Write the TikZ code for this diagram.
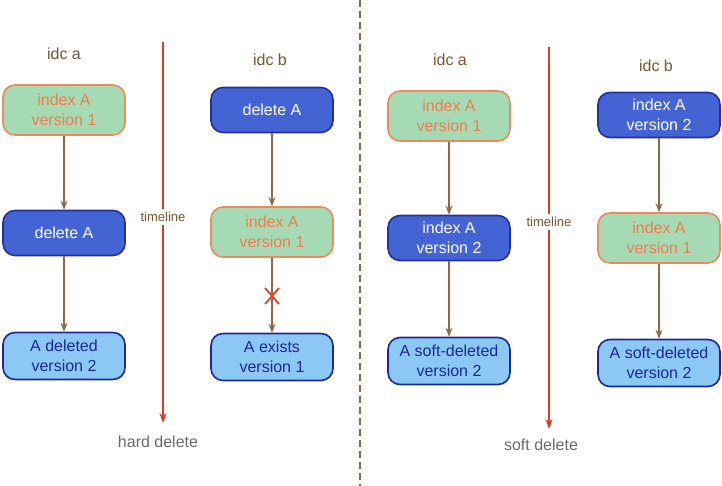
\documentclass[tikz,border=0pt]{standalone}
\usepackage{fontspec}
\setmainfont{Liberation Sans}
\usetikzlibrary{arrows.meta}
\definecolor{gfill}{HTML}{A6DAB4}
\definecolor{gdraw}{HTML}{EE8A5A}
\definecolor{gtext}{HTML}{EE7D4E}
\definecolor{dfill}{HTML}{4464D4}
\definecolor{ddraw}{HTML}{2230A0}
\definecolor{lfill}{HTML}{8CC8F4}
\definecolor{ldraw}{HTML}{1C2898}
\definecolor{arr}{HTML}{8C6A46}
\definecolor{lbl}{HTML}{7A5530}
\definecolor{tred}{HTML}{E0392C}
\definecolor{xred}{HTML}{EE3A2A}
\definecolor{gry}{HTML}{6A6A6A}
\tikzset{
  base/.style={rounded corners=12pt, line width=1.6pt, minimum width=122pt, align=center, font=\fontsize{16}{20.5}\selectfont, inner sep=0pt},
  gbox/.style={base, fill=gfill, draw=gdraw, text=gtext, minimum height=50pt},
  dbox/.style={base, fill=dfill, draw=ddraw, text=white, minimum height=45pt},
  lbox/.style={base, fill=lfill, draw=ldraw, text=ldraw, minimum height=47pt},
  flow/.style={draw=arr, line width=1.4pt, -{Stealth[length=9pt,width=7pt]}},
  idc/.style={text=lbl, font=\fontsize{16}{18}\selectfont},
  tline/.style={draw=tred, line width=1.6pt},
  tlabel/.style={text=lbl, font=\fontsize{13}{15}\selectfont},
  caption/.style={text=gry, font=\fontsize{16}{18}\selectfont}
}
\begin{document}
\begin{tikzpicture}[x=1pt,y=-1pt]
\useasboundingbox (0,0) rectangle (722,486);
% left side: hard delete
\node[idc] (la) at (64,54) {idc a};
\node[gbox] (a1) at (64,110) {index A\\version 1};
\node[dbox] (a2) at (64,233) {delete A};
\node[lbox] (a3) at (64,356) {A deleted\\version 2};
\draw[flow] (a1) -- (a2);
\draw[flow] (a2) -- (a3);

\node[idc] (lb) at (270,60) {idc b};
\node[dbox] (b1) at (272,110) {delete A};
\node[gbox] (b2) at (272,232) {index A\\version 1};
\node[lbox] (b3) at (272,357) {A exists\\version 1};
\draw[flow] (b1) -- (b2);
\draw[flow] (b2) -- (b3);
\coordinate (xc) at (272,296);
\draw[xred, line width=1.8pt] ([shift={(-7,-8)}]xc) -- ([shift={(7,8)}]xc);
\draw[xred, line width=1.8pt] ([shift={(7,-8)}]xc) -- ([shift={(-7,8)}]xc);

\coordinate (t1top) at (163,42);
\node[tlabel] (t1) at (163,217) {timeline};
\coordinate (t1bot) at (163,423);
\draw[tline] (t1top) -- (t1.north);
\draw[tline, -{Stealth[length=10pt,width=7pt]}] (t1.south) -- (t1bot);
\node[caption] (hd) at (158,442) {hard delete};

% divider
\coordinate (dtop) at (360,0);
\coordinate (dbot) at (360,486);
\draw[draw=arr, line width=1.5pt, dash pattern=on 7pt off 4pt] (dtop) -- (dbot);

% right side: soft delete
\node[idc] (ra) at (450,60) {idc a};
\node[gbox] (c1) at (449,116) {index A\\version 1};
\node[dbox] (c2) at (449,238) {index A\\version 2};
\node[lbox] (c3) at (449,361) {A soft-deleted\\version 2};
\draw[flow] (c1) -- (c2);
\draw[flow] (c2) -- (c3);

\node[idc] (rb) at (656,66) {idc b};
\node[dbox] (d1) at (659,115) {index A\\version 2};
\node[gbox] (d2) at (659,238) {index A\\version 1};
\node[lbox] (d3) at (659,363) {A soft-deleted\\version 2};
\draw[flow] (d1) -- (d2);
\draw[flow] (d2) -- (d3);

\coordinate (t2top) at (549,47);
\node[tlabel] (t2) at (549,222) {timeline};
\coordinate (t2bot) at (549,429);
\draw[tline] (t2top) -- (t2.north);
\draw[tline, -{Stealth[length=10pt,width=7pt]}] (t2.south) -- (t2bot);
\node[caption] (sd) at (541,445) {soft delete};
\end{tikzpicture}
\end{document}
